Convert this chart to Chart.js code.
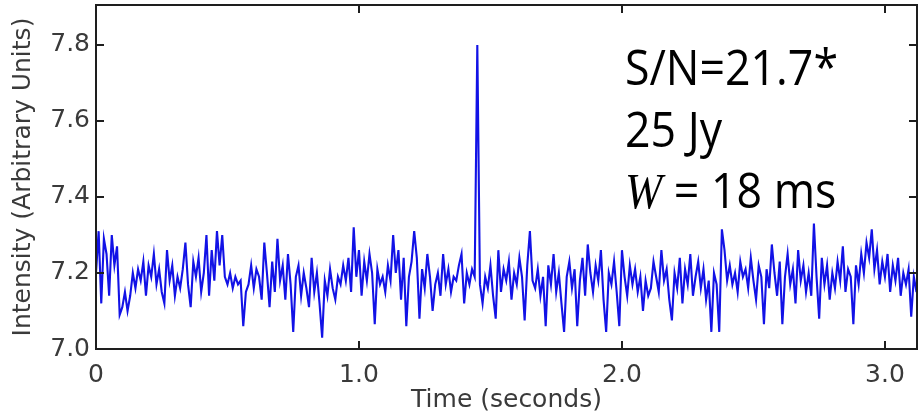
<!DOCTYPE html>
<html>
<head>
<meta charset="utf-8">
<script src="https://cdn.jsdelivr.net/npm/chart.js@4.4.1/dist/chart.umd.min.js"></script>
<style>
  body { margin: 0; background: #fff; }
  canvas { display: block; }
</style>
</head>
<body>
<canvas id="pulseChart" width="918" height="415"></canvas>
<script>
// intensity samples, one every 10 ms
const sampleStep = 0.01;
const intensity = [
  7.20, 7.31, 7.12, 7.29, 7.25, 7.14, 7.30, 7.22, 7.27, 7.09,
  7.11, 7.15, 7.10, 7.14, 7.20, 7.16, 7.21, 7.18, 7.23, 7.14,
  7.22, 7.19, 7.25, 7.17, 7.21, 7.15, 7.12, 7.26, 7.18, 7.22,
  7.14, 7.19, 7.16, 7.21, 7.28, 7.17, 7.11, 7.23, 7.19, 7.24,
  7.15, 7.20, 7.30, 7.14, 7.26, 7.18, 7.31, 7.22, 7.30, 7.19,
  7.17, 7.20, 7.16, 7.19, 7.17, 7.18, 7.06, 7.15, 7.17, 7.22,
  7.16, 7.21, 7.19, 7.13, 7.28, 7.20, 7.11, 7.23, 7.15, 7.29,
  7.18, 7.22, 7.13, 7.25, 7.17, 7.045, 7.19, 7.22, 7.14, 7.20,
  7.16, 7.11, 7.24, 7.15, 7.20, 7.12, 7.03, 7.18, 7.14, 7.21,
  7.16, 7.13, 7.19, 7.17, 7.22, 7.18, 7.24, 7.15, 7.32, 7.19,
  7.26, 7.14, 7.23, 7.18, 7.25, 7.20, 7.065, 7.21, 7.17, 7.19,
  7.15, 7.22, 7.18, 7.30, 7.20, 7.26, 7.13, 7.24, 7.06, 7.19,
  7.23, 7.31, 7.24, 7.08, 7.21, 7.16, 7.25, 7.19, 7.10, 7.17,
  7.20, 7.14, 7.25, 7.17, 7.21, 7.15, 7.19, 7.18, 7.22, 7.25,
  7.12, 7.20, 7.17, 7.21, 7.19, 7.80, 7.17, 7.12, 7.19, 7.16,
  7.22, 7.14, 7.08, 7.26, 7.15, 7.21, 7.18, 7.23, 7.13, 7.20,
  7.17, 7.24, 7.19, 7.075, 7.22, 7.31, 7.18, 7.16, 7.21, 7.14,
  7.19, 7.06, 7.22, 7.17, 7.25, 7.15, 7.20, 7.12, 7.045, 7.19,
  7.23, 7.16, 7.21, 7.06, 7.18, 7.24, 7.14, 7.275, 7.20, 7.15,
  7.22, 7.18, 7.26, 7.13, 7.045, 7.20, 7.17, 7.23, 7.15, 7.06,
  7.26, 7.19, 7.14, 7.22, 7.17, 7.21, 7.15, 7.19, 7.10, 7.18,
  7.14, 7.16, 7.23, 7.19, 7.15, 7.26, 7.18, 7.21, 7.13, 7.075,
  7.20, 7.16, 7.24, 7.12, 7.21, 7.17, 7.25, 7.14, 7.19, 7.23,
  7.16, 7.21, 7.13, 7.18, 7.045, 7.20, 7.17, 7.045, 7.315, 7.26,
  7.18, 7.22, 7.17, 7.20, 7.15, 7.23, 7.19, 7.21, 7.16, 7.24,
  7.18, 7.13, 7.22, 7.19, 7.065, 7.21, 7.16, 7.275, 7.20, 7.14,
  7.23, 7.065, 7.19, 7.25, 7.17, 7.21, 7.12, 7.26, 7.18, 7.22,
  7.15, 7.20, 7.14, 7.33, 7.19, 7.08, 7.24, 7.17, 7.22, 7.13,
  7.20, 7.16, 7.23, 7.18, 7.27, 7.15, 7.21, 7.19, 7.065, 7.22,
  7.17, 7.25, 7.20, 7.28, 7.24, 7.315, 7.21, 7.26, 7.17, 7.23,
  7.19, 7.25, 7.15, 7.22, 7.18, 7.24, 7.14, 7.20, 7.17, 7.21,
  7.085, 7.19, 7.15
];

// axis ticks
const xTickValues = [0, 1, 2, 3];
const xTickLabels = ["0", "1.0", "2.0", "3.0"];
const yTickValues = [7.0, 7.2, 7.4, 7.6, 7.8];
const yTickLabels = ["7.0", "7.2", "7.4", "7.6", "7.8"];

// text block in the upper right
const noteLines = ["S/N=21.7*", "25 Jy"];
const widthSymbol = "W";
const widthText = " = 18 ms";

const points = intensity.map((v, i) => ({ x: i * sampleStep, y: v }));

const tickColor = "#3a3a3a";
const tickFont = { family: "DejaVu Sans", size: 25 };

// frame with inward ticks on all four sides
const framePlugin = {
  id: "frame",
  afterDraw(chart) {
    const { ctx, chartArea: a, scales } = chart;
    ctx.save();
    ctx.strokeStyle = "#1e1e1e";
    ctx.lineWidth = 2;
    ctx.strokeRect(a.left, a.top, a.right - a.left, a.bottom - a.top);
    const len = 8;
    ctx.beginPath();
    xTickValues.forEach((v) => {
      const px = Math.round(scales.x.getPixelForValue(v));
      ctx.moveTo(px, a.bottom);
      ctx.lineTo(px, a.bottom - len);
      ctx.moveTo(px, a.top);
      ctx.lineTo(px, a.top + len);
    });
    yTickValues.forEach((v) => {
      const py = Math.round(scales.y.getPixelForValue(v));
      ctx.moveTo(a.left, py);
      ctx.lineTo(a.left + len, py);
      ctx.moveTo(a.right, py);
      ctx.lineTo(a.right - len, py);
    });
    ctx.stroke();
    ctx.restore();
  },
};

// S/N, flux and width text
const notePlugin = {
  id: "note",
  afterDraw(chart) {
    const ctx = chart.ctx;
    const left = 625;
    const baselines = [85, 147, 208];
    ctx.save();
    ctx.fillStyle = "#000";
    ctx.textBaseline = "alphabetic";
    ctx.font = '50px "Open Sans"';
    const sx = 213 / ctx.measureText(noteLines[0]).width;
    ctx.translate(left, 0);
    ctx.scale(sx, 1);
    noteLines.forEach((t, i) => ctx.fillText(t, 0, baselines[i]));
    ctx.font = 'italic 50px "Liberation Serif"';
    ctx.fillText(widthSymbol, 0, baselines[2]);
    const wW = ctx.measureText(widthSymbol).width;
    ctx.font = '50px "Open Sans"';
    ctx.fillText(widthText, wW, baselines[2]);
    ctx.restore();
  },
};

new Chart(document.getElementById("pulseChart"), {
  type: "line",
  data: {
    datasets: [
      {
        data: points,
        borderColor: "#1212e6",
        borderWidth: 2.1,
        pointRadius: 0,
        tension: 0,
      },
    ],
  },
  options: {
    responsive: false,
    animation: false,
    devicePixelRatio: 1,
    layout: { padding: { top: 5, right: 1, left: 0, bottom: 0 } },
    plugins: { legend: { display: false }, tooltip: { enabled: false } },
    scales: {
      x: {
        type: "linear",
        min: 0,
        max: 3.122,
        afterBuildTicks: (s) => { s.ticks = xTickValues.map((v) => ({ value: v })); },
        afterFit: (s) => {
          s.height = 66;
          s.paddingLeft = 0;
          s.paddingRight = 0;
        },
        grid: { display: false, drawTicks: false },
        border: { display: false },
        ticks: {
          padding: 11,
          color: tickColor,
          font: tickFont,
          maxRotation: 0,
          callback: (v) => xTickLabels[xTickValues.indexOf(v)],
        },
        title: {
          display: true,
          text: "Time (seconds)",
          color: tickColor,
          font: { family: "DejaVu Sans", size: 25 },
          padding: { top: 0, bottom: 0 },
        },
      },
      y: {
        min: 7.0,
        max: 7.905,
        afterBuildTicks: (s) => { s.ticks = yTickValues.map((v) => ({ value: v })); },
        afterFit: (s) => {
          s.width = 96;
          s.paddingTop = 0;
          s.paddingBottom = 0;
        },
        grid: { display: false, drawTicks: false },
        border: { display: false },
        ticks: {
          padding: 6,
          color: tickColor,
          font: tickFont,
          callback: (v) => yTickLabels[yTickValues.findIndex((t) => Math.abs(t - v) < 1e-6)],
        },
        title: {
          display: true,
          text: "Intensity (Arbitrary Units)",
          color: tickColor,
          font: { family: "DejaVu Sans", size: 25 },
          padding: { top: 8, bottom: 0 },
        },
      },
    },
  },
  plugins: [framePlugin, notePlugin],
});
</script>
</body>
</html>
